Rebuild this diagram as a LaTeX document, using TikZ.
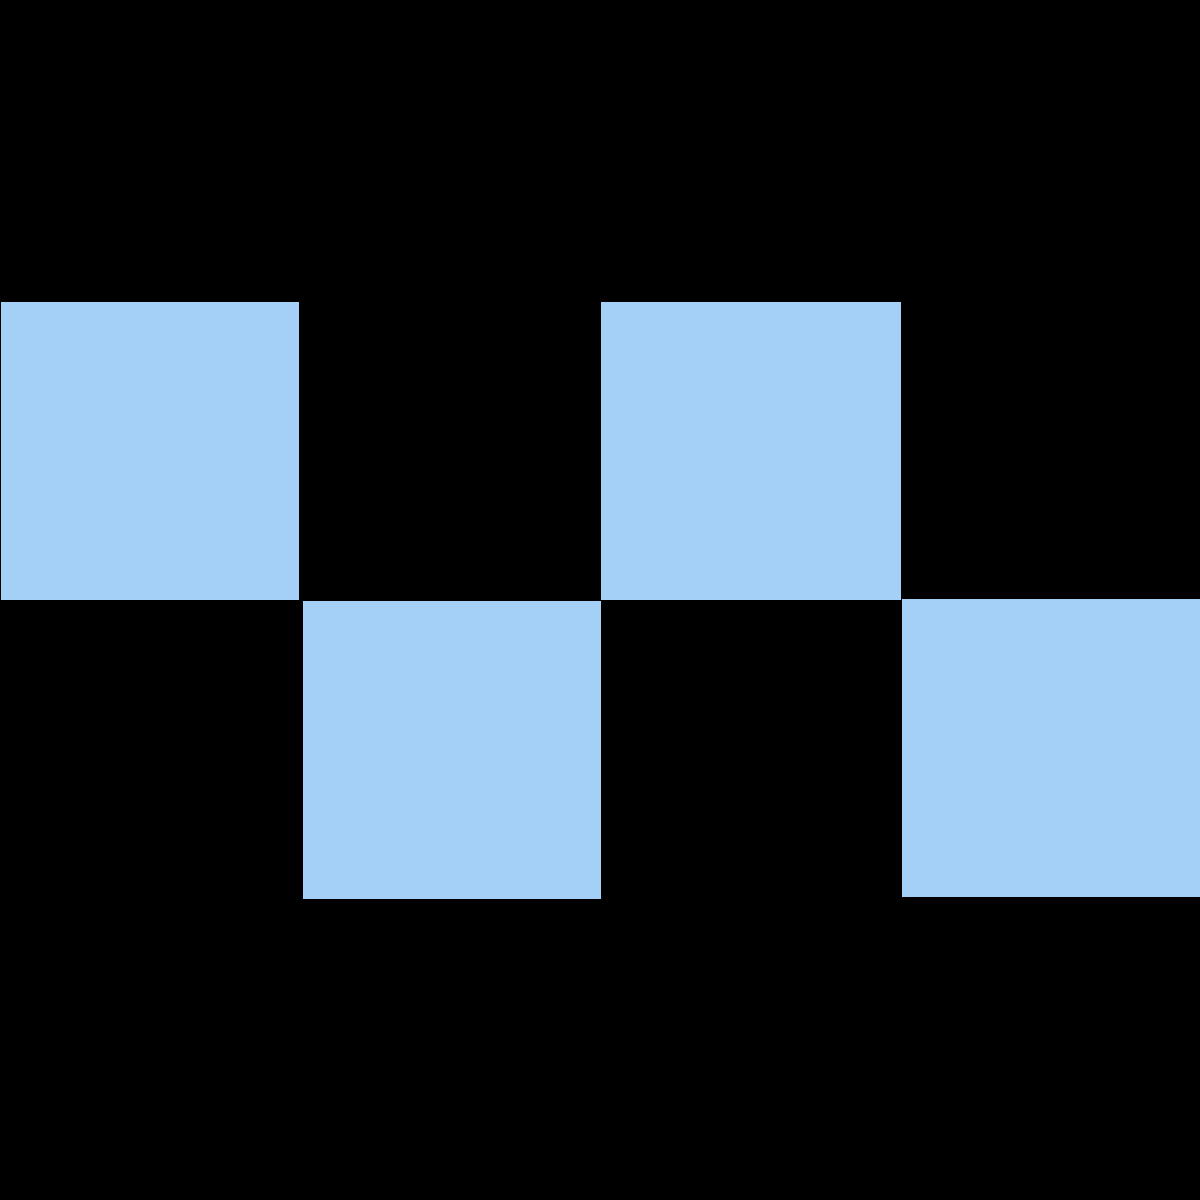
\documentclass[tikz,border=0pt]{standalone}
\definecolor{skyblue}{RGB}{164,208,248}
\tikzset{tile/.style={fill=skyblue, rectangle, inner sep=0pt, minimum width=2.98cm, minimum height=2.98cm}}
\begin{document}
\begin{tikzpicture}[x=0.01cm, y=-0.01cm]
			\fill[black] (0,0) rectangle (1200,1200);
			\useasboundingbox (0,0) rectangle (1200,1200);
			\node[tile] (tileA) at (150,451){};
			\node[tile] (tileB) at (452,750){};
			\node[tile, minimum width=3cm] (tileC) at (751,451){};
			\node[tile] (tileD) at (1051,748){};
		\end{tikzpicture}
\end{document}
